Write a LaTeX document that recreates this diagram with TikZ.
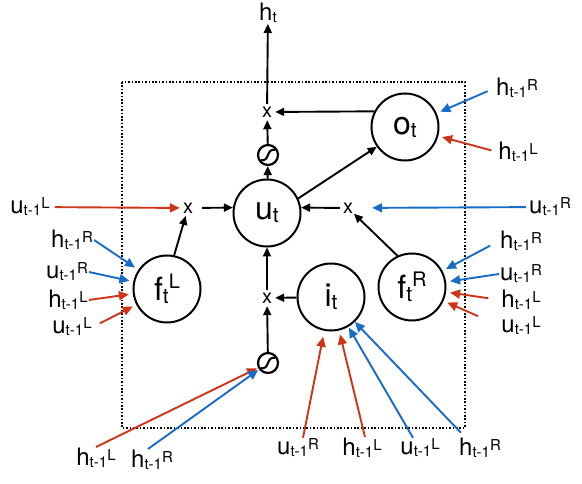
\documentclass[tikz,border=0pt]{standalone}
\usepackage{fontspec}
\setmainfont{TeX Gyre Heros}
\usetikzlibrary{arrows.meta}
\definecolor{prevL}{RGB}{206,52,22}
\definecolor{prevR}{RGB}{22,108,200}
\newcommand\sbt[1]{\raisebox{-2pt}{\fontsize{15}{15}\selectfont #1}}
\newcommand\spt[1]{\raisebox{5pt}{\fontsize{15}{15}\selectfont #1}}
\newcommand\hprev[1]{h\sbt{t-1}\spt{#1}}
\newcommand\uprev[1]{u\sbt{t-1}\spt{#1}}
\newcommand\gsub[1]{\raisebox{-3pt}{\fontsize{21}{21}\selectfont #1}}
\newcommand\gsup[1]{\raisebox{12pt}{\fontsize{20}{20}\selectfont #1}}
\newcommand\sigmark[1]{\draw[line width=2pt] ([shift={(-7,5)}]#1.center) .. controls ([shift={(2,7)}]#1.center) and ([shift={(-2,-7)}]#1.center) .. ([shift={(7,-5)}]#1.center);}
\begin{document}
\begin{tikzpicture}[x=1pt,y=-1pt,
  gate/.style={circle,draw,line width=2pt,minimum size=67pt,inner sep=0pt,font=\fontsize{32}{33}\selectfont},
  mul/.style={circle,minimum size=16pt,inner sep=0pt,font=\fontsize{20}{20}\selectfont},
  squash/.style={circle,draw,line width=2.2pt,minimum size=20pt,inner sep=0pt},
  lab/.style={inner sep=1pt,font=\fontsize{24}{26}\selectfont},
  flow/.style={line width=1.9pt,-{Triangle[length=9pt,width=8pt]}},
  fromL/.style={prevL,line width=1.9pt,shorten >=4pt,-{Triangle[length=10pt,width=9pt]}},
  fromR/.style={prevR,line width=1.9pt,shorten >=4pt,-{Triangle[length=10pt,width=9pt]}}]
\useasboundingbox (0,0) rectangle (582,484);
\draw[line width=2.1pt,dash pattern=on 1.7pt off 1.7pt] (122,82) rectangle (465,428);

\node[gate] (ut) at (267,213) {u\gsub{t}};
\node[gate] (ot) at (405,127) {o\gsub{t}};
\node[gate] (it) at (331,297) {i\gsub{t}};
\node[gate] (fl) at (167,289) {f\gsub{t}\gsup{L}};
\node[gate] (fr) at (412,287) {f\gsub{t}\gsup{R}};
\node[mul] (xo) at (267,112) {x};
\node[mul] (xl) at (188,208) {x};
\node[mul] (xr) at (348,208) {x};
\node[mul] (xb) at (267,298) {x};
\node[squash] (so) at (268,155) {};
\node[squash] (sb) at (268,363) {};
\sigmark{so}
\sigmark{sb}

\node[lab] (htop) at (268,13) {h\sbt{t}};
\node[lab] (uLin) at (30,207) {\uprev{L}};
\node[lab] (uRin) at (550,207) {\uprev{R}};
\node[lab] (hRo) at (517,88) {\hprev{R}};
\node[lab] (hLo) at (518,152) {\hprev{L}};
\node[lab] (hRfl) at (72,240) {\hprev{R}};
\node[lab] (uRfl) at (67,272) {\uprev{R}};
\node[lab] (hLfl) at (68,300) {\hprev{L}};
\node[lab] (uLfl) at (72,327) {\uprev{L}};
\node[lab] (hRfr) at (521,241) {\hprev{R}};
\node[lab] (uRfr) at (521,274) {\uprev{R}};
\node[lab] (hLfr) at (521,300) {\hprev{L}};
\node[lab] (uLfr) at (521,326) {\uprev{L}};
\node[lab] (hLsb) at (96,458) {\hprev{L}};
\node[lab] (hRsb) at (152,460) {\hprev{R}};
\node[lab] (uRit) at (298,448) {\uprev{R}};
\node[lab] (hLit) at (362,448) {\hprev{L}};
\node[lab] (uLit) at (420,448) {\uprev{L}};
\node[lab] (hRit) at (480,448) {\hprev{R}};

\draw[flow] (xo) -- (htop);
\draw[flow] (ot.153) -- (xo);
\draw[flow] (so) -- (xo);
\draw[flow] (ut) -- (so);
\draw[flow] (ut.25) -- (ot.215);
\draw[flow,shorten <=6pt] (xl) -- (ut.171);
\draw[flow] (fl.78) -- (xl);
\draw[flow] (xr) -- (ut.9);
\draw[flow] (fr.115) -- (xr);
\draw[flow] (it) -- (xb);
\draw[flow] (xb) -- (ut);
\draw[flow] (sb) -- (xb);

\draw[fromL,shorten <=4pt,shorten >=0pt] (uLin) -- (xl);
\draw[fromR,shorten <=2pt,shorten >=16pt] (uRin) -- (xr);
\draw[fromR,shorten <=8pt] (hRo.west) -- (ot);
\draw[fromL,shorten <=6pt] (hLo.west) -- (ot);
\draw[fromR] (hRfl.east) -- (fl);
\draw[fromR] (uRfl.east) -- (fl);
\draw[fromL] (hLfl.east) -- (fl);
\draw[fromL,shorten <=8pt] (uLfl.east) -- (fl);
\draw[fromR,shorten <=10pt] (hRfr.west) -- (fr);
\draw[fromR] (uRfr.west) -- (fr);
\draw[fromL,shorten <=12pt] (hLfr.west) -- (fr);
\draw[fromL,shorten <=24pt] (uLfr.west) -- (fr);
\draw[fromL,shorten >=1pt] (hLsb.north) -- (sb);
\draw[fromR,shorten >=1pt] ([xshift=-4pt]hRsb.north) -- (sb);
\draw[fromL,shorten >=6pt] ([xshift=5pt]uRit.north) -- (it);
\draw[fromL,shorten >=4pt] ([xshift=3pt]hLit.north) -- (it);
\draw[fromR,shorten >=1pt] ([xshift=-7pt]uLit.north) -- (it);
\draw[fromR,shorten >=0pt,shorten <=6pt] ([xshift=-15pt]hRit.north) -- (it);
\end{tikzpicture}
\end{document}
